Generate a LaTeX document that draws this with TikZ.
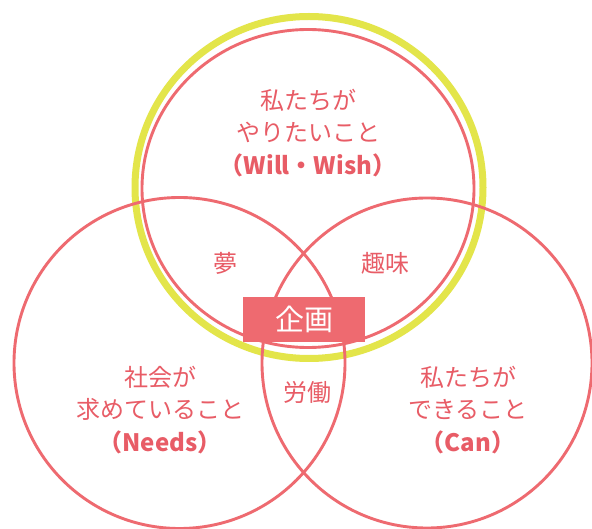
\documentclass[tikz,border=0pt]{standalone}
\usepackage{fontspec}
\setmainfont{Noto Sans CJK JP}
\definecolor{vred}{HTML}{EE6A70}
\definecolor{vtxt}{HTML}{E85C66}
\definecolor{vyel}{HTML}{E3E54A}
\begin{document}
\begin{tikzpicture}[x=1pt,y=-1pt,
  redring/.style={draw=vred,line width=2.9pt},
  yelring/.style={draw=vyel,line width=7pt},
  lbl/.style={text=vtxt,align=center,inner sep=0pt,font=\fontsize{24}{32.5}\selectfont},
  planbox/.style={fill=vred,minimum width=122pt,minimum height=45pt,inner sep=0pt,text=white,font=\fontsize{29}{30}\selectfont}]
\useasboundingbox (0,0) rectangle (592,529);
\fill[white] (0,0) rectangle (592,529);
% yellow highlight ring
\draw[yelring] (309,187.5) ellipse [x radius=174, y radius=171];
% three circles
\draw[redring] (308,188.5) ellipse [x radius=166, y radius=159];
\draw[redring] (179.5,363) circle [radius=165.5];
\draw[redring] (427,363) circle [radius=165];
% labels
\node[lbl] (will) at (308,133) {私たちが\\やりたいこと\\{\bfseries （Will・Wish）}};
\node[lbl] (needs) at (160,410) {社会が\\求めていること\\{\bfseries （Needs）}};
\node[lbl] (can) at (468,410) {私たちが\\できること\\{\bfseries （Can）}};
\node[lbl] (yume) at (225,263) {夢};
\node[lbl] (shumi) at (385,263) {趣味};
\node[lbl] (roudou) at (307,392) {労働};
\node[planbox] (kikaku) at (304,319.5) {企画};
\end{tikzpicture}
\end{document}
